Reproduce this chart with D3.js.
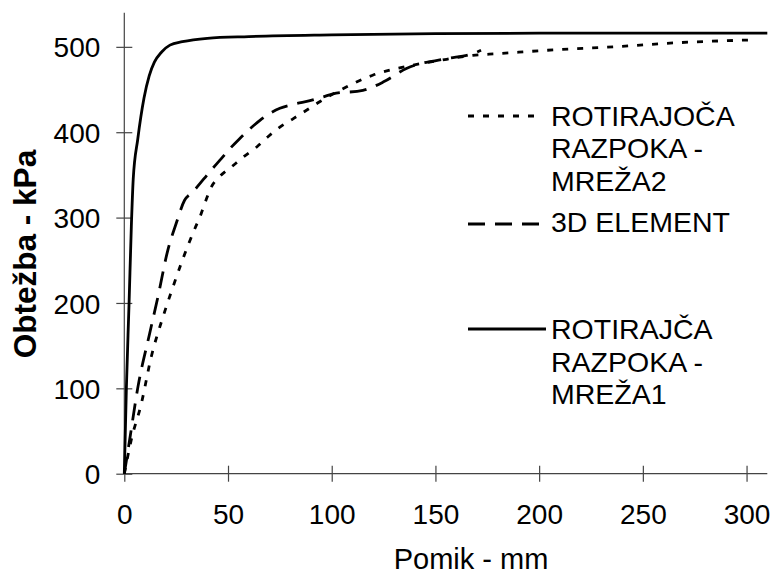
<!DOCTYPE html>
<html>
<head>
<meta charset="utf-8">
<script src="https://cdn.jsdelivr.net/npm/d3@7"></script>
<style>
  body { margin: 0; background: #fff; }
  svg { display: block; font-family: "Liberation Sans", Arial, sans-serif; }
</style>
</head>
<body>
<div id="chart"></div>
<script>
// pomik (mm), obtežba (kPa)
const mreza1X = [0, 1, 2.3, 3.4, 4.3, 6.5, 9.5, 12, 14.5, 18, 22, 28, 40, 60, 100, 150, 200, 310];
const mreza1Y = [0, 100, 200, 290, 345, 392, 440, 466, 482, 494, 502, 506, 510, 512, 514, 515.5, 516, 516];

const mreza2X = [0, 3.4, 8.2, 13, 18.7, 23.5, 28.3, 34, 36.5, 39, 42, 46, 52, 57.4, 64, 69.4, 75, 81.5, 88, 94.4, 107, 120, 136, 152, 168, 180, 204, 236, 268, 301];
const mreza2Y = [0, 40, 82, 137, 184, 219, 252, 287, 301, 318, 336, 348, 360, 371, 383, 395, 406, 416, 426, 436, 453, 467, 477, 484, 490, 492, 496, 500, 505, 508];

const elemX = [0, 2.6, 6.6, 12.2, 16.2, 21, 25, 29, 33, 42, 46, 51, 55, 60.6, 65.4, 75, 82, 89.5, 96, 100.6, 115, 125, 136, 155, 168, 172];
const elemY = [0, 40, 102, 164, 207, 262, 293, 320, 330, 356, 367, 381, 391, 404, 414, 428, 433, 437, 441.5, 445, 449, 459, 474.7, 486, 492, 496];

const xTicks = [0, 50, 100, 150, 200, 250, 300];
const yTicks = [0, 100, 200, 300, 400, 500];

const labelMreza2 = ["ROTIRAJOČA", "RAZPOKA -", "MREŽA2"];
const labelElem = ["3D ELEMENT"];
const labelMreza1 = ["ROTIRAJČA", "RAZPOKA -", "MREŽA1"];

const width = 774, height = 574;
const mLeft = 124.3, mRight = 767.3, mTop = 12.7, mBottom = 473.7;

const svg = d3.select("#chart").append("svg")
    .attr("width", width)
    .attr("height", height);

const x = d3.scaleLinear().domain([0, 310]).range([mLeft, mRight]);
const y = d3.scaleLinear().domain([0, 540]).range([mBottom, mTop]);

// axes with crossing ticks
const xAxis = svg.append("g")
    .attr("transform", `translate(0,${mBottom})`)
    .call(d3.axisBottom(x).tickValues(xTicks).tickSize(0).tickPadding(30));
xAxis.selectAll(".tick").append("line")
    .attr("y1", -8).attr("y2", 8)
    .attr("stroke", "#444").attr("stroke-width", 1.2);
xAxis.selectAll("text")
    .style("font-size", "28px")
    .attr("fill", "#000");

const yAxis = svg.append("g")
    .attr("transform", `translate(${mLeft},0)`)
    .call(d3.axisLeft(y).tickValues(yTicks).tickSize(0).tickPadding(24));
yAxis.selectAll(".tick").append("line")
    .attr("x1", -8).attr("x2", 8)
    .attr("stroke", "#444").attr("stroke-width", 1.2);
yAxis.selectAll("text")
    .style("font-size", "28px")
    .attr("fill", "#000")
    .attr("dy", "0.36em");

svg.selectAll(".domain").remove();
svg.append("line")
    .attr("x1", mLeft).attr("x2", mRight)
    .attr("y1", mBottom).attr("y2", mBottom)
    .attr("stroke", "#444").attr("stroke-width", 1.2);
svg.append("line")
    .attr("x1", mLeft).attr("x2", mLeft)
    .attr("y1", mTop).attr("y2", mBottom)
    .attr("stroke", "#444").attr("stroke-width", 1.2);

// titles
svg.append("text")
    .attr("x", 471)
    .attr("y", 569)
    .attr("text-anchor", "middle")
    .style("font-size", "29px")
    .text("Pomik - mm");

svg.append("text")
    .attr("transform", "translate(36,254) rotate(-90)")
    .attr("text-anchor", "middle")
    .style("font-size", "31.5px")
    .style("font-weight", "bold")
    .text("Obtežba - kPa");

// curves
const line = d3.line()
    .x(d => x(d[0]))
    .y(d => y(d[1]))
    .curve(d3.curveMonotoneX);

const series = [
    { xs: mreza2X, ys: mreza2Y, dash: "6,9" },
    { xs: elemX, ys: elemY, dash: "17,10" },
    { xs: mreza1X, ys: mreza1Y, dash: null }
];

series.forEach(s => {
    svg.append("path")
        .datum(s.xs.map((v, i) => [v, s.ys[i]]))
        .attr("fill", "none")
        .attr("stroke", "#000")
        .attr("stroke-width", 2.8)
        .attr("stroke-dasharray", s.dash)
        .attr("d", line);
});

// legend
const legend = [
    { lines: labelMreza2, y0: 126, ly: 116, x2: 537, dash: "6,9" },
    { lines: labelElem, y0: 232, ly: 224, x2: 542, dash: "17,10" },
    { lines: labelMreza1, y0: 339.3, ly: 329, x2: 546, dash: null }
];

legend.forEach(l => {
    svg.append("line")
        .attr("x1", 468).attr("x2", l.x2)
        .attr("y1", l.ly).attr("y2", l.ly)
        .attr("stroke", "#000")
        .attr("stroke-width", 2.8)
        .attr("stroke-dasharray", l.dash);
    const t = svg.append("text")
        .attr("x", 551)
        .attr("y", l.y0)
        .style("font-size", "28.5px");
    l.lines.forEach((s, i) => {
        t.append("tspan")
            .attr("x", 551)
            .attr("y", l.y0 + i * 32.3)
            .text(s);
    });
});
</script>
</body>
</html>
